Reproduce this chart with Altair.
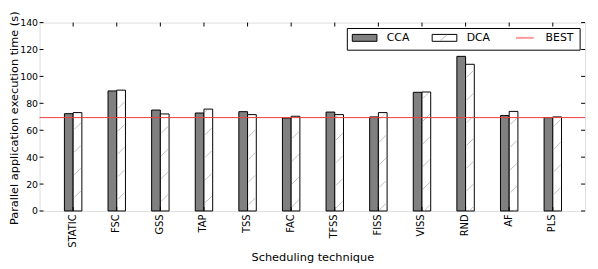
import altair as alt
import pandas as pd
import numpy as np

# ---------------- data ----------------
techniques = ["STATIC", "FSC", "GSS", "TAP", "TSS", "FAC", "TFSS", "FISS", "VISS", "RND", "AF", "PLS"]
cca = [72.3, 89.2, 75.0, 72.8, 73.8, 69.1, 73.5, 69.9, 88.2, 114.9, 70.9, 69.4]
dca = [73.1, 89.8, 72.1, 75.7, 71.6, 70.4, 71.6, 73.1, 88.4, 109.0, 74.0, 69.9]
best = [69.4]
series_names = ["CCA", "DCA", "BEST"]
y_ticks = [0, 20, 40, 60, 80, 100, 120, 140]

# ---------------- layout / style ----------------
W, H = 553, 191
XDOM = [-0.77, 11.74]
YDOM = [0, 140]
BW = 0.2
FONT = "DejaVu Sans"
GRAY = "#808080"
RED = "#f03c3c"
RED_LEG = "#ff9a9a"
HATCH = "#b8b8b8"

rows = []
for i, t in enumerate(techniques):
    rows.append(dict(technique=t, idx=i, series="CCA", value=cca[i]))
    rows.append(dict(technique=t, idx=i, series="DCA", value=dca[i]))
df = pd.DataFrame(rows)

xs = alt.Scale(domain=XDOM, nice=False, zero=False)
ys = alt.Scale(domain=YDOM, nice=False, zero=False)

label_expr = "[" + ",".join(f"'{t}'" for t in techniques) + "][datum.value]"

x_axis = alt.Axis(
    values=list(range(len(techniques))), labelExpr=label_expr, labelAngle=270,
    labelAlign="right", labelBaseline="middle", labelPadding=3, labelOffset=-1,
    labelOverlap=False, ticks=False, domain=False, grid=False, labelFontSize=10,
    labelFont=FONT, labelColor="black", title="Scheduling technique", titleFont=FONT,
    titleFontSize=11.5, titleFontWeight="normal", titleColor="black",
    titleY=50, titleBaseline="alphabetic")
y_axis = alt.Axis(
    values=y_ticks, ticks=False, domain=False, grid=False, labelFontSize=9.5,
    labelOverlap=False, labelFont=FONT, labelColor="black", labelPadding=2,
    title="Parallel application execution time (s)", titleFont=FONT,
    titleFontSize=11.5, titleFontWeight="normal", titleColor="black",
    titleX=-25.5, titleY=H / 2 + 1, titleAngle=270, titleBaseline="middle",
    titleAlign="center")

bars = alt.Chart(df).transform_calculate(
    x0=f"datum.series == 'CCA' ? datum.idx - {BW} : datum.idx",
    x1=f"datum.series == 'CCA' ? datum.idx : datum.idx + {BW}",
).mark_rect(stroke="black", strokeWidth=1).encode(
    x=alt.X("x0:Q", scale=xs, axis=x_axis),
    x2="x1:Q",
    y=alt.Y("value:Q", scale=ys, axis=y_axis),
    y2=alt.datum(0),
    fill=alt.Fill("series:N", scale=alt.Scale(domain=["CCA", "DCA"], range=[GRAY, "white"]), legend=None),
)

# hatch lines for DCA bars, derived from the values through the same mapping
def px_x(v):
    return (v - XDOM[0]) / (XDOM[1] - XDOM[0]) * W

def px_y(v):
    return H - (v - YDOM[0]) / (YDOM[1] - YDOM[0]) * H

segs = []
SP = 23.0
PH = 5.5
for i, v in enumerate(dca):
    a, b = px_x(i) + 1, px_x(i + BW) - 1
    t, bot = px_y(v) + 1, H
    c = PH
    while c < b + bot + SP:
        lo = max(a, c - bot)
        hi = min(b, c - t)
        if hi - lo > 0.5:
            segs.append(dict(
                x=XDOM[0] + lo / W * (XDOM[1] - XDOM[0]),
                x2=XDOM[0] + hi / W * (XDOM[1] - XDOM[0]),
                y=(H - (c - lo)) / H * (YDOM[1] - YDOM[0]),
                y2=(H - (c - hi)) / H * (YDOM[1] - YDOM[0]),
            ))
        c += SP
hatch = alt.Chart(pd.DataFrame(segs)).mark_rule(color=HATCH, strokeWidth=0.9).encode(
    x=alt.X("x:Q", scale=xs, axis=x_axis), x2="x2:Q",
    y=alt.Y("y:Q", scale=ys, axis=y_axis), y2="y2:Q")

best_rule = alt.Chart(pd.DataFrame({"v": best})).mark_rule(color=RED, strokeWidth=1).encode(
    y=alt.Y("v:Q", scale=ys, axis=y_axis))

# inward ticks
yt = pd.DataFrame({"v": y_ticks})
ytick_l = alt.Chart(yt).mark_rule(color="black").encode(
    y=alt.Y("v:Q", scale=ys, axis=y_axis), x=alt.value(0), x2=alt.value(4))
ytick_r = alt.Chart(yt).mark_rule(color="black").encode(
    y=alt.Y("v:Q", scale=ys, axis=y_axis), x=alt.value(W - 4), x2=alt.value(W))
xt = pd.DataFrame({"v": list(range(len(techniques)))})
xtick_t = alt.Chart(xt).mark_rule(color="black").encode(
    x=alt.X("v:Q", scale=xs, axis=x_axis), y=alt.value(0), y2=alt.value(4))
xtick_b = alt.Chart(xt).mark_rule(color="black").encode(
    x=alt.X("v:Q", scale=xs, axis=x_axis), y=alt.value(H - 4), y2=alt.value(H))

# legend
one = pd.DataFrame({"k": [0]})
leg_box = alt.Chart(one).mark_rect(fill="white", stroke="black", strokeWidth=1).encode(
    x=alt.value(312), x2=alt.value(548), y=alt.value(6), y2=alt.value(28))
leg_cca = alt.Chart(one).mark_rect(fill=GRAY, stroke="black", strokeWidth=1).encode(
    x=alt.value(317), x2=alt.value(342), y=alt.value(12), y2=alt.value(19))
leg_dca = alt.Chart(one).mark_rect(fill="white", stroke="black", strokeWidth=1).encode(
    x=alt.value(398), x2=alt.value(423), y=alt.value(12), y2=alt.value(19))
leg_dca_h = alt.Chart(one).mark_rule(color=HATCH, strokeWidth=0.9).encode(
    x=alt.value(406), x2=alt.value(413), y=alt.value(18.5), y2=alt.value(12.5))
leg_best = alt.Chart(one).mark_rule(color=RED_LEG, strokeWidth=2).encode(
    x=alt.value(483), x2=alt.value(501), y=alt.value(15.5))

leg_texts = []
for name, xpos in zip(series_names, [352, 433, 513]):
    leg_texts.append(alt.Chart(one).mark_text(
        font=FONT, fontSize=11, align="left", baseline="middle", color="black",
        text=name).encode(x=alt.value(xpos), y=alt.value(16)))

chart = alt.layer(
    bars, hatch, best_rule, ytick_l, ytick_r, xtick_t, xtick_b,
    leg_box, leg_cca, leg_dca, leg_dca_h, leg_best, *leg_texts,
).properties(
    width=W, height=H,
    autosize=alt.AutoSizeParams(type="none"),
    padding={"left": 32, "top": 13, "right": 5, "bottom": 54},
).configure_view(stroke="black", strokeWidth=1).configure(background="white")

chart.save("out.html", embed_options={"renderer": "svg", "actions": False})
